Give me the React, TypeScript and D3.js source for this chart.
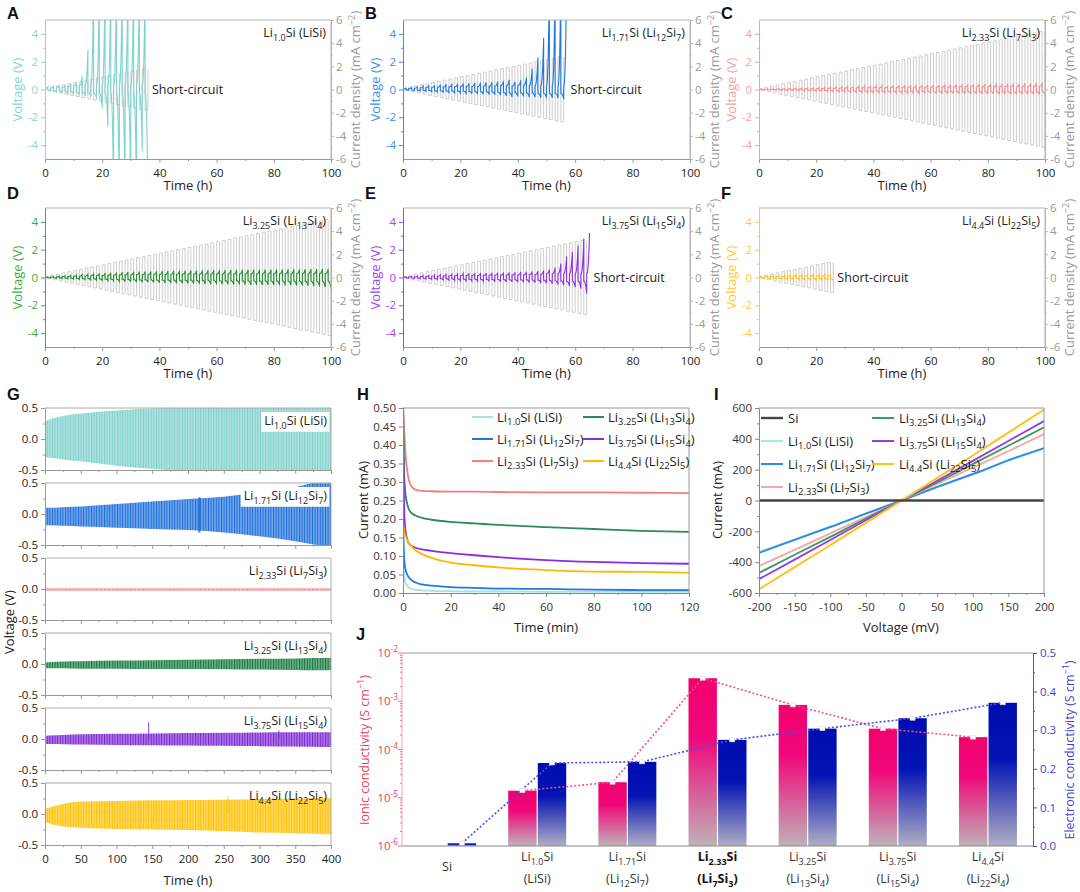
import * as d3 from "d3";
import { useEffect, useRef } from "react";

const FONT = "'Open Sans', 'Noto Sans', sans-serif";
const LETTER_FONT = "'Liberation Sans', Arial, sans-serif";

const LISI = "Li_{1.0}Si (LiSi)";
const LI12 = "Li_{1.71}Si (Li_{12}Si_{7})";
const LI7 = "Li_{2.33}Si (Li_{7}Si_{3})";
const LI13 = "Li_{3.25}Si (Li_{13}Si_{4})";
const LI15 = "Li_{3.75}Si (Li_{15}Si_{4})";
const LI22 = "Li_{4.4}Si (Li_{22}Si_{5})";

// A-F: current density of each 2 h cycle (mA cm-2)
const jSteps = [
  0.1, 0.2, 0.3, 0.4, 0.5, 0.6, 0.7, 0.8, 0.9, 1.0, 1.1, 1.2, 1.3, 1.4, 1.5, 1.6, 1.7,
  1.8, 1.9, 2.0, 2.1, 2.2, 2.3, 2.4, 2.5, 2.6, 2.7, 2.8, 2.9, 3.0, 3.1, 3.2, 3.3, 3.4,
  3.5, 3.6, 3.7, 3.8, 3.9, 4.0, 4.1, 4.2, 4.3, 4.4, 4.5, 4.6, 4.7, 4.8, 4.9, 5.0,
];

// A-F: voltage at end of each positive / negative half cycle (V)
const upA = [0.2, 0.25, 0.3, 0.35, 0.42, 0.5, 0.95, 2.86, 8, 8, 8, 8, 8, 8, 8, 8, 8, 8];
const downA = [-0.12, -0.18, -0.22, -0.27, -0.32, -0.38, -0.45, -0.5, -0.6, -1.36, -2.67, -8, -8, -8, -8, -8, -4.45, -8];
const upB = [0.1, 0.15, 0.2, 0.25, 0.3, 0.33, 0.36, 0.38, 0.4, 0.42, 0.44, 0.45, 0.47, 0.48, 0.5, 0.52, 0.55, 0.6, 0.7, 0.55, 0.65, 0.85, 1.5, 2.3, 3.7, 8, 8, 8, 8];
const downB = [-0.05, -0.08, -0.1, -0.12, -0.15, -0.18, -0.2, -0.22, -0.24, -0.26, -0.28, -0.3, -0.32, -0.34, -0.36, -0.38, -0.4, -0.45, -0.55, -0.5, -0.5, -0.55, -0.55, -0.6, -0.6, -0.6, -0.62, -0.7];
const upC = [0.02, 0.03, 0.04, 0.05, 0.06, 0.07, 0.08, 0.09, 0.1, 0.11, 0.13, 0.15, 0.17, 0.19, 0.2, 0.22, 0.23, 0.24, 0.25, 0.26, 0.27, 0.28, 0.29, 0.3, 0.3, 0.31, 0.32, 0.32, 0.33, 0.34, 0.34, 0.35, 0.36, 0.36, 0.37, 0.38, 0.38, 0.39, 0.4, 0.4, 0.41, 0.42, 0.42, 0.43, 0.44, 0.44, 0.45, 0.46, 0.47, 0.48];
const downC = [-0.02, -0.03, -0.04, -0.05, -0.06, -0.07, -0.08, -0.09, -0.1, -0.11, -0.12, -0.14, -0.16, -0.17, -0.18, -0.2, -0.21, -0.22, -0.23, -0.24, -0.24, -0.25, -0.26, -0.26, -0.27, -0.27, -0.28, -0.28, -0.29, -0.29, -0.3, -0.3, -0.31, -0.31, -0.31, -0.32, -0.32, -0.32, -0.33, -0.33, -0.33, -0.34, -0.34, -0.34, -0.35, -0.35, -0.35, -0.36, -0.36, -0.36];
const upD = [0.03, 0.06, 0.09, 0.12, 0.15, 0.18, 0.21, 0.24, 0.27, 0.3, 0.32, 0.34, 0.36, 0.38, 0.4, 0.41, 0.42, 0.43, 0.44, 0.45, 0.46, 0.47, 0.48, 0.48, 0.49, 0.5, 0.5, 0.51, 0.52, 0.52, 0.53, 0.53, 0.54, 0.54, 0.55, 0.55, 0.56, 0.56, 0.57, 0.57, 0.58, 0.58, 0.59, 0.59, 0.6, 0.6, 0.61, 0.61, 0.62, 0.62];
const downD = [-0.03, -0.05, -0.07, -0.09, -0.11, -0.13, -0.15, -0.17, -0.19, -0.21, -0.23, -0.25, -0.27, -0.29, -0.31, -0.33, -0.34, -0.35, -0.36, -0.38, -0.39, -0.4, -0.41, -0.42, -0.43, -0.44, -0.45, -0.46, -0.47, -0.48, -0.48, -0.49, -0.5, -0.5, -0.51, -0.52, -0.52, -0.53, -0.53, -0.54, -0.54, -0.55, -0.56, -0.57, -0.58, -0.6, -0.62, -0.65, -0.7, -0.8];
const upE = [0.05, 0.08, 0.1, 0.13, 0.15, 0.18, 0.2, 0.22, 0.24, 0.26, 0.28, 0.3, 0.31, 0.32, 0.33, 0.34, 0.35, 0.36, 0.37, 0.38, 0.4, 0.42, 0.44, 0.46, 0.5, 0.58, 0.7, 1.0, 1.5, 1.85, 2.3, 2.8, 3.2];
const downE = [-0.05, -0.07, -0.09, -0.11, -0.13, -0.15, -0.17, -0.19, -0.21, -0.23, -0.25, -0.26, -0.27, -0.28, -0.29, -0.3, -0.31, -0.32, -0.33, -0.34, -0.35, -0.36, -0.38, -0.4, -0.42, -0.45, -0.5, -0.55, -0.62, -0.7, -0.8, -1.15];
const upF = [0.05, 0.1, 0.13, 0.15, 0.17, 0.18, 0.19, 0.2, 0.2, 0.21, 0.21, 0.22, 0.22];
const downF = [-0.05, -0.08, -0.1, -0.12, -0.13, -0.14, -0.15, -0.16, -0.16, -0.17, -0.17, -0.18, -0.2];

// G: envelope of the long cycling voltage (V)
const gTimes = [0, 5, 25, 50, 100, 150, 200, 250, 300, 350, 375, 400];
const gHiLiSi = [0.28, 0.31, 0.37, 0.41, 0.46, 0.49, 0.52, 0.52, 0.52, 0.52, 0.52, 0.52];
const gLoLiSi = [-0.29, -0.3, -0.33, -0.36, -0.43, -0.48, -0.52, -0.52, -0.52, -0.52, -0.52, -0.52];
const gHiLi12 = [0.1, 0.1, 0.11, 0.12, 0.16, 0.2, 0.24, 0.28, 0.35, 0.43, 0.5, 0.52];
const gLoLi12 = [-0.18, -0.18, -0.19, -0.2, -0.22, -0.24, -0.26, -0.3, -0.36, -0.44, -0.49, -0.52];
const gHiLi7 = [0.012, 0.012, 0.012, 0.012, 0.012, 0.012, 0.012, 0.012, 0.012, 0.012, 0.012, 0.012];
const gLoLi7 = [-0.03, -0.03, -0.03, -0.03, -0.03, -0.03, -0.03, -0.03, -0.03, -0.03, -0.03, -0.03];
const gHiLi13 = [0.03, 0.03, 0.04, 0.045, 0.055, 0.06, 0.07, 0.075, 0.085, 0.09, 0.095, 0.1];
const gLoLi13 = [-0.07, -0.07, -0.07, -0.075, -0.075, -0.08, -0.08, -0.085, -0.09, -0.095, -0.1, -0.1];
const gHiLi15 = [0.05, 0.055, 0.065, 0.075, 0.085, 0.09, 0.095, 0.1, 0.105, 0.11, 0.11, 0.11];
const gLoLi15 = [-0.08, -0.08, -0.085, -0.09, -0.095, -0.1, -0.105, -0.11, -0.115, -0.12, -0.125, -0.13];
const gHiLi22 = [0.08, 0.1, 0.16, 0.2, 0.21, 0.22, 0.225, 0.23, 0.24, 0.25, 0.255, 0.26];
const gLoLi22 = [-0.12, -0.15, -0.2, -0.22, -0.24, -0.25, -0.26, -0.28, -0.3, -0.31, -0.32, -0.33];
const gSpikes = [
  { s: 1, t: 216, hi: 0.27, lo: -0.3, w: 2 },
  { s: 4, t: 145, hi: 0.27, lo: 0, w: 1 },
  { s: 4, t: 327, hi: 0.14, lo: 0, w: 1 },
  { s: 5, t: 256, hi: 0.28, lo: 0, w: 1 },
];

// H: DC polarization current (mA) vs time (min)
const hTime = [0, 0.5, 1, 2, 3, 5, 8, 12, 20, 30, 40, 60, 80, 100, 120];
const hLiSi = [0.17, 0.05, 0.03, 0.018, 0.013, 0.009, 0.007, 0.006, 0.005, 0.004, 0.004, 0.003, 0.003, 0.003, 0.003];
const hLi12 = [0.2, 0.09, 0.065, 0.047, 0.038, 0.029, 0.023, 0.02, 0.016, 0.014, 0.012, 0.011, 0.009, 0.008, 0.008];
const hLi7 = [0.52, 0.44, 0.38, 0.32, 0.295, 0.28, 0.276, 0.275, 0.274, 0.274, 0.273, 0.272, 0.272, 0.271, 0.27];
const hLi13 = [0.5, 0.32, 0.27, 0.235, 0.22, 0.21, 0.203, 0.198, 0.192, 0.188, 0.184, 0.178, 0.173, 0.168, 0.165];
const hLi15 = [0.45, 0.22, 0.17, 0.14, 0.13, 0.123, 0.118, 0.114, 0.108, 0.102, 0.097, 0.089, 0.084, 0.081, 0.079];
const hLi22 = [0.19, 0.165, 0.155, 0.14, 0.13, 0.117, 0.105, 0.095, 0.082, 0.075, 0.069, 0.062, 0.058, 0.057, 0.055];

// I: I-V curves, current (mA) vs voltage (mV)
const iVolt = [-200, -150, -100, -95, -50, 0, 50, 100, 110, 150, 200];
const iSi = [0, 0, 0, 0, 0, 0, 0, 0, 0, 0, 0];
const iLiSi = [-335, -252, -170, -162, -84, 0, 86, 170, 186, 258, 338];
const iLi12 = [-340, -255, -172, -165, -85, 0, 88, 172, 188, 262, 340];
const iLi7 = [-425, -320, -213, -202, -107, 0, 107, 213, 235, 320, 430];
const iLi13 = [-470, -352, -236, -224, -118, 0, 118, 236, 260, 355, 475];
const iLi15 = [-510, -383, -256, -243, -128, 0, 128, 257, 283, 386, 515];
const iLi22 = [-575, -432, -290, -275, -145, 0, 145, 292, 322, 440, 590];

// J: conductivities
const jCats = ["Si", "Li1.0Si", "Li1.71Si", "Li2.33Si", "Li3.25Si", "Li3.75Si", "Li4.4Si"];
const jTopLabels = ["Si", "Li_{1.0}Si", "Li_{1.71}Si", "Li_{2.33}Si", "Li_{3.25}Si", "Li_{3.75}Si", "Li_{4.4}Si"];
const jSubLabels = ["", "(LiSi)", "(Li_{12}Si_{7})", "(Li_{7}Si_{3})", "(Li_{13}Si_{4})", "(Li_{15}Si_{4})", "(Li_{22}Si_{4})"];
const ionic = [null, 1.4e-5, 2.1e-5, 3.0e-3, 8.4e-4, 2.7e-4, 1.8e-4];
const electronic = [0.007, 0.215, 0.218, 0.275, 0.304, 0.331, 0.371];

type Sel = d3.Selection<any, any, any, any>;

const hyph = (f: (v: number) => string) => (v: number) => f(v).replace("\u2212", "-");

function rich(t: Sel, str: string, fs: number) {
  const parts = str.split(/(_\{[^}]*\}|\^\{[^}]*\})/).filter((s) => s.length > 0);
  let shift = 0;
  parts.forEach((p) => {
    let target = 0;
    let txt = p;
    let size = fs;
    if (p.startsWith("_{")) {
      target = fs * 0.3;
      txt = p.slice(2, -1);
      size = fs * 0.72;
    } else if (p.startsWith("^{")) {
      target = -fs * 0.42;
      txt = p.slice(2, -1);
      size = fs * 0.72;
    }
    t.append("tspan").attr("dy", target - shift).attr("font-size", size).text(txt);
    shift = target;
  });
}

function label(
  parent: Sel,
  x: number,
  y: number,
  str: string,
  o: { size?: number; color?: string; anchor?: string; weight?: string; rotate?: number; family?: string } = {}
) {
  const fs = o.size ?? 12.5;
  const t = parent
    .append("text")
    .attr("x", x)
    .attr("y", y)
    .attr("font-size", fs)
    .attr("fill", o.color ?? "#222")
    .attr("text-anchor", o.anchor ?? "start")
    .attr("font-family", o.family ?? FONT);
  if (o.weight) t.attr("font-weight", o.weight);
  if (o.rotate) t.attr("transform", `rotate(${o.rotate},${x},${y})`);
  rich(t, str, fs);
  return t;
}

const AX: Record<string, any> = {
  bottom: d3.axisBottom,
  left: d3.axisLeft,
  right: d3.axisRight,
  top: d3.axisTop,
};

function axis(
  parent: Sel,
  side: string,
  scale: any,
  at: number,
  major: number[],
  minor: number[],
  fmt: (v: number) => string,
  line: string,
  txt: string,
  size = 4,
  pad = 3,
  fs = 11.5
) {
  const tr = side === "bottom" || side === "top" ? `translate(0,${at})` : `translate(${at},0)`;
  if (minor.length) {
    const m = parent
      .append("g")
      .attr("transform", tr)
      .call(AX[side](scale).tickValues(minor).tickSize(size / 2).tickSizeOuter(0).tickFormat(() => ""));
    m.select(".domain").remove();
    m.selectAll("line").attr("stroke", line);
  }
  const g = parent
    .append("g")
    .attr("transform", tr)
    .call(AX[side](scale).tickValues(major).tickSize(size).tickSizeOuter(0).tickPadding(pad).tickFormat(fmt));
  g.select(".domain").attr("stroke", line);
  g.selectAll(".tick line").attr("stroke", line);
  g.selectAll(".tick text").attr("fill", txt).attr("font-size", fs).attr("font-family", FONT);
  return g;
}

const HALF = [0, 0.12, 0.25, 0.4, 0.55, 0.68, 0.8, 0.88, 0.94, 0.98, 1];
function wave(up: number[], down: number[]) {
  const pts: [number, number][] = [[0, 0]];
  const half = (t0: number, peak: number) => {
    const base = Math.sign(peak) * 0.45 * Math.min(Math.abs(peak), 0.6);
    HALF.forEach((u) => pts.push([t0 + u, base + (peak - base) * Math.pow(u, 2.4)]));
  };
  up.forEach((p, k) => {
    half(2 * k, p);
    if (k < down.length) half(2 * k + 1, down[k]);
  });
  return pts;
}

const COLS = [
  [45, 331],
  [403, 690],
  [759, 1045],
];
const ROWS = [
  [20, 159],
  [208, 347],
];

const vPanels = [
  { letter: "A", name: LISI, line: "#7fd3cf", axis: "#86d6d2", cycles: 18, up: upA, down: downA, short: true, col: 0, row: 0 },
  { letter: "B", name: LI12, line: "#1f78e0", axis: "#3a90ea", cycles: 28, up: upB, down: downB, short: true, col: 1, row: 0 },
  { letter: "C", name: LI7, line: "#f58c8c", axis: "#f8a0a0", cycles: 50, up: upC, down: downC, short: false, col: 2, row: 0 },
  { letter: "D", name: LI13, line: "#1f8f2c", axis: "#3cad45", cycles: 50, up: upD, down: downD, short: false, col: 0, row: 1 },
  { letter: "E", name: LI15, line: "#9030e0", axis: "#a045ee", cycles: 32, up: upE, down: downE, short: true, col: 1, row: 1 },
  { letter: "F", name: LI22, line: "#ffc11e", axis: "#ffc93a", cycles: 13, up: upF, down: downF, short: true, col: 2, row: 1 },
];

const gSeries = [
  { name: LISI, color: "#7dd0cb", hi: gHiLiSi, lo: gLoLiSi, box: true },
  { name: LI12, color: "#1a6ddc", hi: gHiLi12, lo: gLoLi12, box: true },
  { name: LI7, color: "#f28a8a", hi: gHiLi7, lo: gLoLi7, box: false },
  { name: LI13, color: "#127a3c", hi: gHiLi13, lo: gLoLi13, box: false },
  { name: LI15, color: "#7a24d4", hi: gHiLi15, lo: gLoLi15, box: false },
  { name: LI22, color: "#ffc000", hi: gHiLi22, lo: gLoLi22, box: false },
];

const hSeries = [
  { name: LISI, color: "#a3e4de", v: hLiSi },
  { name: LI12, color: "#1e78e6", v: hLi12 },
  { name: LI7, color: "#f47f7f", v: hLi7 },
  { name: LI13, color: "#2e8b57", v: hLi13 },
  { name: LI15, color: "#8b2be2", v: hLi15 },
  { name: LI22, color: "#ffb800", v: hLi22 },
];

const iSeries = [
  { name: "Si", color: "#444444", v: iSi },
  { name: LISI, color: "#a8e6e2", v: iLiSi },
  { name: LI12, color: "#2d8be8", v: iLi12 },
  { name: LI7, color: "#f7a8a8", v: iLi7 },
  { name: LI13, color: "#3c9a5f", v: iLi13 },
  { name: LI15, color: "#9b3ce0", v: iLi15 },
  { name: LI22, color: "#ffc21a", v: iLi22 },
];

const App = () => {
  const ref = useRef<HTMLDivElement | null>(null);

  useEffect(() => {
    if (!ref.current) return;
    document.body.style.margin = "0";
    const svg = d3
      .select(ref.current)
      .append("svg")
      .attr("width", 1080)
      .attr("height", 892)
      .style("display", "block")
      .style("background", "#fff");
    const defs = svg.append("defs");
    const clip = (id: string, x0: number, x1: number, y0: number, y1: number) => {
      defs.append("clipPath").attr("id", id).append("rect").attr("x", x0).attr("y", y0).attr("width", x1 - x0).attr("height", y1 - y0);
      return `url(#${id})`;
    };
    const border = (x0: number, x1: number, y0: number, y1: number, c = "#aaa") => {
      svg.append("line").attr("x1", x0).attr("x2", x1).attr("y1", y0).attr("y2", y0).attr("stroke", c);
      svg.append("line").attr("x1", x1).attr("x2", x1).attr("y1", y0).attr("y2", y1).attr("stroke", c);
    };
    const letter = (x: number, y: number, s: string) =>
      label(svg, x, y, s, { size: 16.5, weight: "bold", family: LETTER_FONT, color: "#111" });

    // ---- A-F
    vPanels.forEach((p, i) => {
      const [x0, x1] = COLS[p.col];
      const [y0, y1] = ROWS[p.row];
      const x = d3.scaleLinear([0, 100], [x0, x1]);
      const yV = d3.scaleLinear([-5, 5], [y1, y0]);
      const yJ = d3.scaleLinear([-6, 6], [y1, y0]);
      const cp = clip(`cv${i}`, x0, x1, y0, y1);

      const jPts: [number, number][] = [[0, 0]];
      jSteps.slice(0, p.cycles).forEach((j, k) => {
        jPts.push([2 * k, j], [2 * k + 1, j], [2 * k + 1, -j], [2 * k + 2, -j]);
      });
      jPts.push([2 * p.cycles, jSteps[p.cycles - 1]]);
      svg
        .append("path")
        .attr("d", d3.line().x((d) => x(d[0])).y((d) => yJ(d[1]))(jPts))
        .attr("fill", "none")
        .attr("stroke", "#c2c2c2")
        .attr("stroke-width", 0.8)
        .attr("clip-path", cp);

      svg
        .append("path")
        .attr("d", d3.line().x((d) => x(d[0])).y((d) => yV(d[1]))(wave(p.up, p.down)))
        .attr("fill", "none")
        .attr("stroke", p.line)
        .attr("stroke-width", 1.1)
        .attr("clip-path", cp);

      border(x0, x1, y0, y1, "#b5b5b5");
      axis(svg, "bottom", x, y1, [0, 20, 40, 60, 80, 100], [10, 30, 50, 70, 90], d3.format("d"), "#999", "#222", 4, 6);
      axis(svg, "left", yV, x0, [-4, -2, 0, 2, 4], [-3, -1, 1, 3], hyph(d3.format("d")), p.axis, p.axis, 4, 3);
      axis(svg, "right", yJ, x1, [-6, -4, -2, 0, 2, 4, 6], [-5, -3, -1, 1, 3, 5], hyph(d3.format("d")), "#b5b5b5", "#9a9a9a", 3, 2);

      label(svg, (x0 + x1) / 2, y1 + 31, "Time (h)", { size: 13, anchor: "middle" });
      label(svg, x0 - 23, (y0 + y1) / 2, "Voltage (V)", { size: 13, anchor: "middle", rotate: -90, color: p.axis });
      label(svg, x1 + 29, (y0 + y1) / 2, "Current density (mA cm^{\u22122})", { size: 13, anchor: "middle", rotate: -90, color: "#9a9a9a" });
      label(svg, x1 - 5, y0 + 17, p.name, { size: 12.5, anchor: "end" });
      if (p.short) {
        const tEnd = p.up.length + p.down.length;
        label(svg, x(tEnd) + 4, yV(0) + 4.5, "Short-circuit", { size: 12.5 });
      }
      letter(x0 - 38, y0 - 1 + (p.row ? -8 : 0), p.letter);
    });

    // ---- G
    const gx = d3.scaleLinear([0, 400], [45, 331]);
    gSeries.forEach((s, i) => {
      const top = 408 + 75 * i;
      const bottom = top + 62;
      const y = d3.scaleLinear([-0.5, 0.5], [bottom, top]);
      const cp = clip(`cg${i}`, 45, 331, top, bottom);
      const pat = defs.append("pattern").attr("id", `pg${i}`).attr("width", 2.6).attr("height", 10).attr("patternUnits", "userSpaceOnUse");
      pat.append("rect").attr("width", 2.6).attr("height", 10).attr("fill", s.color).attr("opacity", 0.62);
      pat.append("rect").attr("width", 1).attr("height", 10).attr("fill", s.color);
      const area = d3
        .area<number>()
        .x((_, k) => gx(gTimes[k]))
        .y0((_, k) => y(s.lo[k]))
        .y1((d) => y(d))
        .curve(d3.curveMonotoneX);
      svg.append("path").attr("d", area(s.hi)).attr("fill", `url(#pg${i})`).attr("clip-path", cp);
      gSpikes
        .filter((sp) => sp.s === i)
        .forEach((sp) =>
          svg
            .append("line")
            .attr("x1", gx(sp.t))
            .attr("x2", gx(sp.t))
            .attr("y1", y(sp.hi))
            .attr("y2", y(sp.lo))
            .attr("stroke", s.color)
            .attr("stroke-width", sp.w)
            .attr("opacity", 0.85)
        );
      border(45, 331, top, bottom, "#aaa");
      axis(
        svg,
        "bottom",
        gx,
        bottom,
        [0, 50, 100, 150, 200, 250, 300, 350, 400],
        [25, 75, 125, 175, 225, 275, 325, 375],
        i === 5 ? d3.format("d") : () => "",
        "#999",
        "#222",
        4,
        6
      );
      axis(svg, "left", y, 45, [-0.5, 0, 0.5], [-0.25, 0.25], hyph(d3.format(".1f")), "#999", "#222", 4, 3);
      const t = label(svg, 327, top + 17, s.name, { size: 12.5, anchor: "end" });
      if (s.box) {
        const bb = (t.node() as SVGTextElement).getBBox();
        svg
          .insert("rect", () => t.node())
          .attr("x", bb.x - 3)
          .attr("y", bb.y)
          .attr("width", Math.min(bb.width + 5, 330 - bb.x + 3))
          .attr("height", bb.height)
          .attr("fill", "#fff");
      }
    });
    label(svg, 188, 885, "Time (h)", { size: 13, anchor: "middle" });
    label(svg, 13.5, 622, "Voltage (V)", { size: 13, anchor: "middle", rotate: -90 });
    letter(7, 400, "G");

    // ---- H
    const hx = d3.scaleLinear([0, 120], [403, 689]);
    const hyS = d3.scaleLinear([0, 0.5], [593, 408]);
    const hcp = clip("ch", 403, 689, 408, 593);
    hSeries.forEach((s) => {
      svg
        .append("path")
        .attr(
          "d",
          d3
            .line<number>()
            .x((_, k) => hx(hTime[k]))
            .y((d) => hyS(d))
            .curve(d3.curveMonotoneX)(s.v)
        )
        .attr("fill", "none")
        .attr("stroke", s.color)
        .attr("stroke-width", 1.8)
        .attr("clip-path", hcp);
    });
    border(403, 689, 408, 593, "#999");
    axis(svg, "bottom", hx, 593, [0, 20, 40, 60, 80, 100, 120], [10, 30, 50, 70, 90, 110], d3.format("d"), "#888", "#333", 4, 6);
    axis(
      svg,
      "left",
      hyS,
      403,
      [0, 0.05, 0.1, 0.15, 0.2, 0.25, 0.3, 0.35, 0.4, 0.45, 0.5],
      [],
      d3.format(".2f"),
      "#888",
      "#333",
      4,
      3
    );
    label(svg, 546, 632, "Time (min)", { size: 13, anchor: "middle" });
    label(svg, 368, 500, "Current (mA)", { size: 13, anchor: "middle", rotate: -90 });
    hSeries.forEach((s, k) => {
      const cx = k < 3 ? 472 : 583;
      const cy = 417 + 22 * (k % 3);
      svg.append("line").attr("x1", cx).attr("x2", cx + 21).attr("y1", cy).attr("y2", cy).attr("stroke", s.color).attr("stroke-width", 2);
      label(svg, cx + 25, cy + 4.5, s.name, { size: 13 });
    });
    letter(357, 400, "H");

    // ---- I
    const ix = d3.scaleLinear([-200, 200], [759, 1044]);
    const iy = d3.scaleLinear([-600, 600], [593, 408]);
    const icp = clip("ci", 759, 1044, 408, 593);
    [...iSeries.slice(1), iSeries[0]].forEach((s) => {
      svg
        .append("path")
        .attr(
          "d",
          d3
            .line<number>()
            .x((_, k) => ix(iVolt[k]))
            .y((d) => iy(d))(s.v)
        )
        .attr("fill", "none")
        .attr("stroke", s.color)
        .attr("stroke-width", s.name === "Si" ? 2.4 : 1.9)
        .attr("clip-path", icp);
    });
    border(759, 1044, 408, 593, "#999");
    axis(
      svg,
      "bottom",
      ix,
      593,
      [-200, -150, -100, -50, 0, 50, 100, 150, 200],
      [-175, -125, -75, -25, 25, 75, 125, 175],
      hyph(d3.format("d")),
      "#888",
      "#333",
      4,
      6
    );
    axis(svg, "left", iy, 759, [-600, -400, -200, 0, 200, 400, 600], [-500, -300, -100, 100, 300, 500], hyph(d3.format("d")), "#888", "#333", 4, 3);
    label(svg, 901, 632, "Voltage (mV)", { size: 13, anchor: "middle" });
    label(svg, 722, 500, "Current (mA)", { size: 13, anchor: "middle", rotate: -90 });
    iSeries.forEach((s, k) => {
      const cx = k < 4 ? 761 : 872;
      const cy = 418 + 23 * (k < 4 ? k : k - 4);
      svg
        .append("line")
        .attr("x1", cx)
        .attr("x2", cx + 22)
        .attr("y1", cy)
        .attr("y2", cy)
        .attr("stroke", s.color)
        .attr("stroke-width", s.name === "Si" ? 2.4 : 2);
      label(svg, cx + 27, cy + 4.5, s.name, { size: 13 });
    });
    letter(714, 400, "I");

    // ---- J
    const jx = d3.scaleBand(jCats, [402, 1033]);
    const bw = jx.bandwidth();
    const js = d3.scaleBand(["ion", "ele"], [bw / 2 - 29, bw / 2 + 29]).paddingInner(0.04);
    const yLog = d3.scaleLog([1e-6, 1e-2], [846, 653]);
    const yLin = d3.scaleLinear([0, 0.5], [846, 653]);

    const gp = defs.append("linearGradient").attr("id", "gradPink").attr("x1", 0).attr("y1", 0).attr("x2", 0).attr("y2", 1);
    gp.append("stop").attr("offset", 0).attr("stop-color", "#f2006e");
    gp.append("stop").attr("offset", 0.36).attr("stop-color", "#f0087a");
    gp.append("stop").attr("offset", 1).attr("stop-color", "#bfb2b8");
    const gb = defs.append("linearGradient").attr("id", "gradBlue").attr("x1", 0).attr("y1", 0).attr("x2", 0).attr("y2", 1);
    gb.append("stop").attr("offset", 0).attr("stop-color", "#000cb0");
    gb.append("stop").attr("offset", 0.4).attr("stop-color", "#0414b4");
    gb.append("stop").attr("offset", 1).attr("stop-color", "#b0aec4");

    const ionPts: [number, number][] = [];
    const elePts: [number, number][] = [];
    jCats.forEach((c, k) => {
      const base = jx(c) ?? 0;
      const iv = ionic[k];
      if (iv !== null) {
        const xi = base + (js("ion") ?? 0);
        svg.append("rect").attr("x", xi).attr("width", js.bandwidth()).attr("y", yLog(iv)).attr("height", 846 - yLog(iv)).attr("fill", "url(#gradPink)");
        ionPts.push([xi + js.bandwidth() / 2, yLog(iv)]);
      }
      const ev = electronic[k];
      const xe = base + (js("ele") ?? 0);
      svg.append("rect").attr("x", xe).attr("width", js.bandwidth()).attr("y", yLin(ev)).attr("height", 846 - yLin(ev)).attr("fill", "url(#gradBlue)");
      elePts.push([xe + js.bandwidth() / 2, yLin(ev)]);
    });
    svg.append("path").attr("d", d3.line()(ionPts)).attr("fill", "none").attr("stroke", "#f0508a").attr("stroke-width", 1.6).attr("stroke-dasharray", "2,2");
    svg.append("path").attr("d", d3.line()(elePts)).attr("fill", "none").attr("stroke", "#3f52e6").attr("stroke-width", 1.6).attr("stroke-dasharray", "2,2");
    [...ionPts, ...elePts].forEach(([px, py]) =>
      svg.append("rect").attr("x", px - 2.5).attr("y", py - 2).attr("width", 5).attr("height", 4).attr("fill", "#fff").attr("stroke", "#d8d8e0").attr("stroke-width", 0.6)
    );

    svg.append("line").attr("x1", 402).attr("x2", 1033).attr("y1", 653).attr("y2", 653).attr("stroke", "#999");
    svg.append("line").attr("x1", 402).attr("x2", 1033).attr("y1", 846).attr("y2", 846).attr("stroke", "#888");
    // left log axis
    const la = svg.append("g");
    la.append("line").attr("x1", 402).attr("x2", 402).attr("y1", 653).attr("y2", 846).attr("stroke", "#f3a6b4");
    yLog.ticks().forEach((v) => {
      const major = Math.abs(Math.log10(v) - Math.round(Math.log10(v))) < 1e-6;
      la.append("line")
        .attr("x1", 402)
        .attr("x2", 402 - (major ? 4 : 2))
        .attr("y1", yLog(v))
        .attr("y2", yLog(v))
        .attr("stroke", "#f07890");
      if (major) label(la, 398, yLog(v) + 4, `10^{${hyph(d3.format("d"))(Math.round(Math.log10(v)))}}`, { size: 11.5, anchor: "end", color: "#e8405a" });
    });
    axis(svg, "right", yLin, 1033, [0, 0.1, 0.2, 0.3, 0.4, 0.5], [0.05, 0.15, 0.25, 0.35, 0.45], d3.format(".1f"), "#5050d8", "#3f3fd6", 4, 3, 11.5);
    label(svg, 369, 750, "Ionic conductivity (S cm^{\u22121})", { size: 12.5, anchor: "middle", rotate: -90, color: "#e8405a" });
    label(svg, 1074, 750, "Electronic conductivity (S cm^{\u22121})", { size: 12.5, anchor: "middle", rotate: -90, color: "#3f3fd6" });
    jCats.forEach((c, k) => {
      const cx = (jx(c) ?? 0) + bw / 2;
      const bold = c === "Li2.33Si" ? "bold" : undefined;
      if (!jSubLabels[k]) {
        label(svg, cx, 871, jTopLabels[k], { size: 12.5, anchor: "middle", color: "#333" });
      } else {
        label(svg, cx, 861, jTopLabels[k], { size: 12.5, anchor: "middle", color: bold ? "#111" : "#333", weight: bold });
        label(svg, cx, 883, jSubLabels[k], { size: 12.5, anchor: "middle", color: bold ? "#111" : "#333", weight: bold });
      }
    });
    letter(356, 640, "J");

    return () => {
      svg.remove();
    };
  }, []);

  return <div ref={ref} style={{ width: 1080, height: 892 }} />;
};

export default App;
